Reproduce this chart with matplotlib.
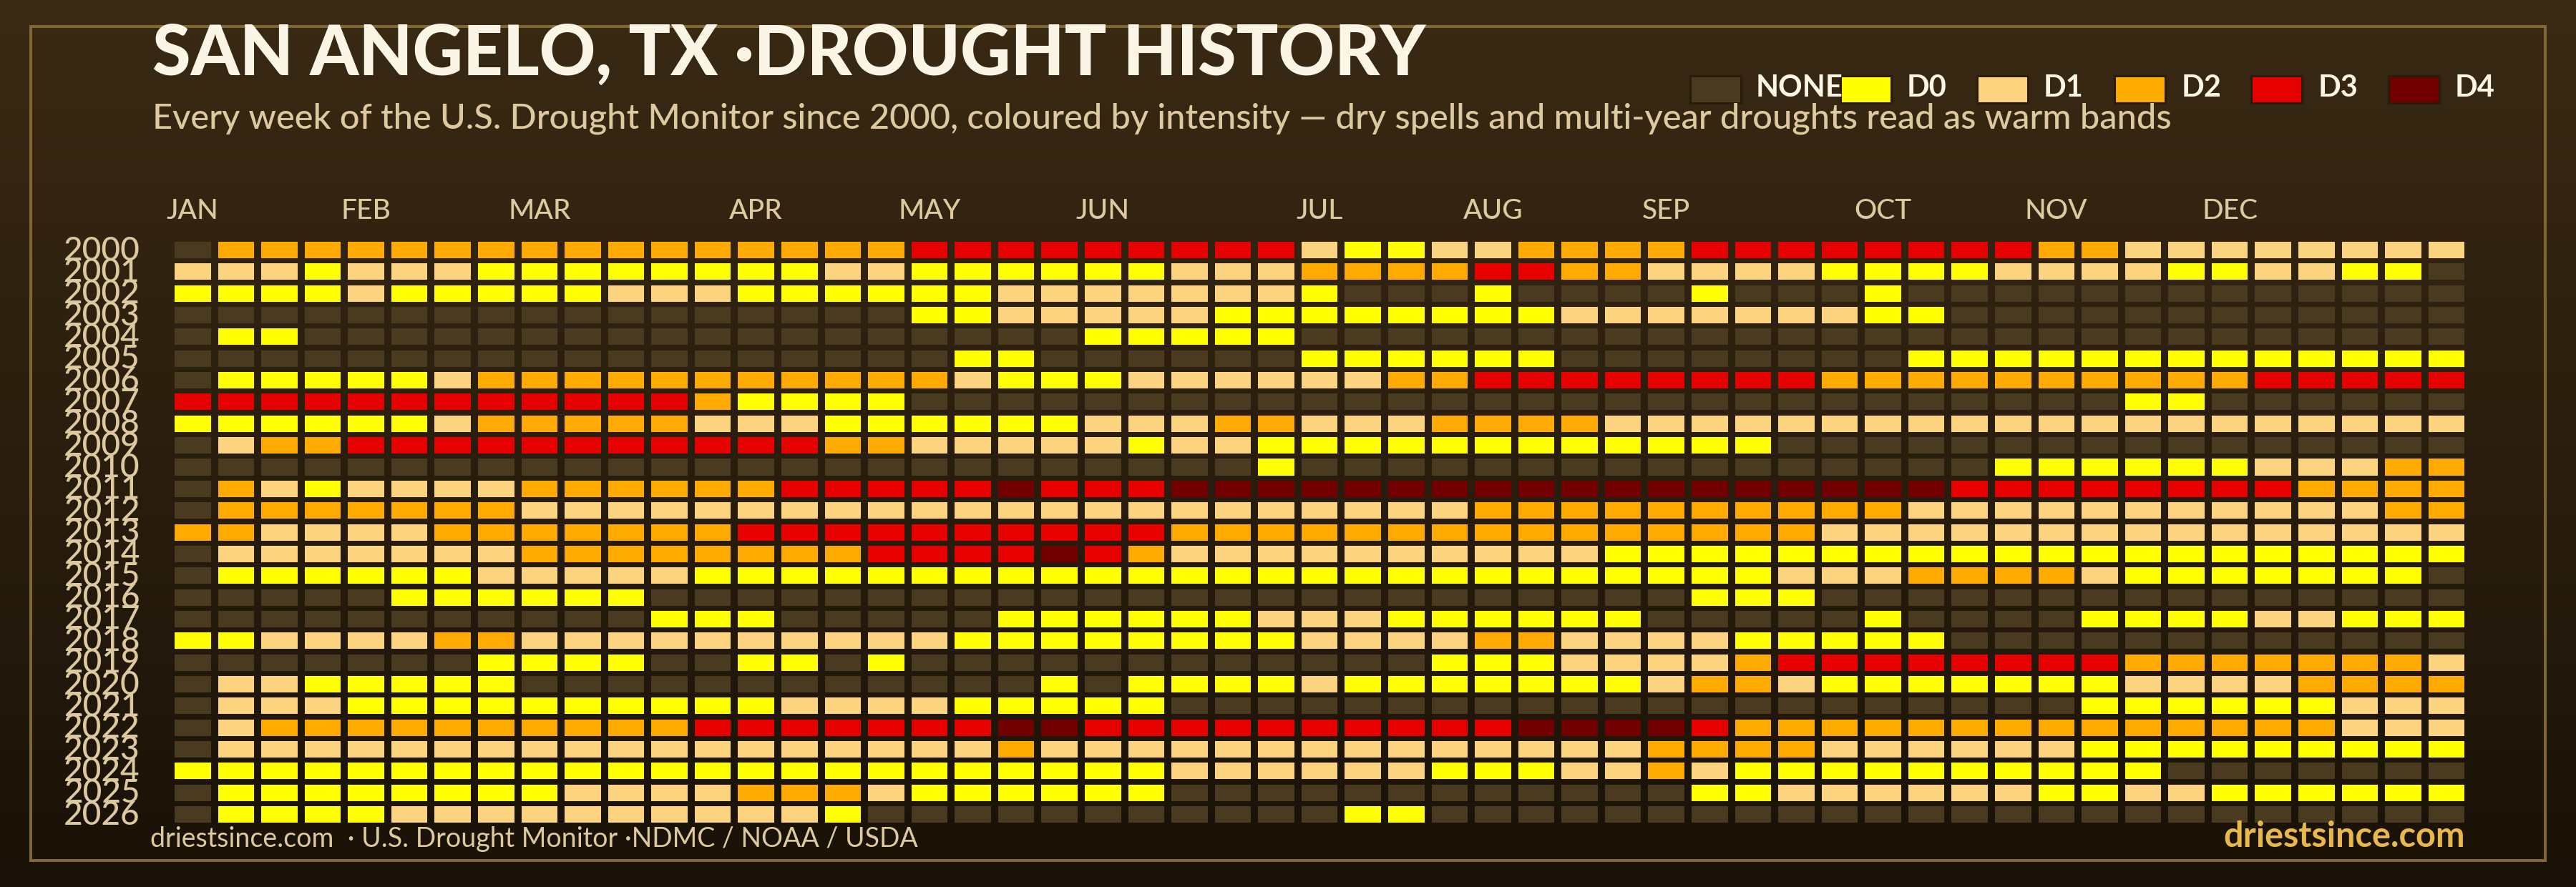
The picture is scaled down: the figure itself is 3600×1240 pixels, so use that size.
# San Angelo drought history - weekly heatmap
import numpy as np
import matplotlib
matplotlib.use('Agg')
import matplotlib.pyplot as plt
from matplotlib.colors import to_rgb
from matplotlib.patches import Rectangle
from matplotlib.transforms import ScaledTranslation

plt.rcParams['font.family'] = ['Lato', 'DejaVu Sans']

years = list(range(2000, 2027))
month_names = ['JAN', 'FEB', 'MAR', 'APR', 'MAY', 'JUN', 'JUL', 'AUG', 'SEP', 'OCT', 'NOV', 'DEC']
month_weeks = [0, 4, 8, 13, 17, 21, 26, 30, 34, 39, 43, 47]

levels = ['NONE', 'D0', 'D1', 'D2', 'D3', 'D4']
level_colors = ['#4a3a20', '#ffff00', '#fcd37f', '#ffaa00', '#e60000', '#730000']

# weekly intensity per year: 0 none, 1 D0, 2 D1, 3 D2, 4 D3, 5 D4
y2000 = [0,3,3,3,3,3,3,3,3,3,3,3, 3,3,3,3,3, 4,4,4,4,4,4,4,4,4, 2, 1,1, 2,2, 3,3,3,3, 4,4,4,4,4,4,4, 4, 3,3, 2,2,2,2,2,2,2,2]
y2001 = [2,2,2,1,2,2,2,1,1,1,1,1, 1,1,1, 2,2, 1,1,1,1,1,1, 2,2,2, 3, 3,3,3, 4,4, 3,3, 2,2,2,2, 1,1,1,1, 2,2,2,2, 1,1, 2,2, 1,1, 0]
y2002 = [1,1,1,1,2,1,1,1,1,1,2,2, 2, 1,1,1,1,1,1, 2,2,2,2,2,2,2, 1, 0,0,0, 1, 0,0,0,0, 1, 0,0,0, 1, 0,0, 0,0,0,0,0,0,0,0,0,0,0]
y2003 = [0,0,0,0,0,0,0,0,0,0,0,0, 0,0,0,0,0, 1,1, 2,2,2,2,2, 1,1,1, 1,1,1,1,1, 2,2,2,2,2,2,2, 1,1, 0, 0,0,0,0,0,0,0,0,0,0,0]
y2004 = [0,1,1,0,0,0,0,0,0,0,0,0, 0,0,0,0,0,0,0,0,0, 1,1,1,1,1, 0, 0,0,0,0,0,0,0,0,0,0,0,0,0,0,0, 0,0,0,0,0,0,0,0,0,0,0]
y2005 = [0,0,0,0,0,0,0,0,0,0,0,0, 0,0,0,0,0,0, 1,1, 0,0,0,0,0,0, 1, 1,1,1,1,1, 0,0,0,0,0,0,0,0, 1,1, 1,1,1,1,1,1,1,1,1,1,1]
y2006 = [0,1,1,1,1,1,2,3,3,3,3,3, 3,3,3,3,3,3, 2, 1,1,1, 2,2,2,2,2, 2, 3,3, 4,4,4,4,4,4,4,4, 3,3,3,3, 3,3,3,3,3,3, 4,4,4,4,4]
y2007 = [4,4,4,4,4,4,4,4,4,4,4,4, 3, 1,1,1,1, 0,0,0,0,0,0,0,0,0,0, 0,0,0,0,0,0,0,0,0,0,0,0,0,0,0, 0,0,0, 1,1, 0,0,0,0,0,0]
y2008 = [1,1,1,1,1,1,2,3,3,3,3,3, 2,2,2, 1,1,1,1,1,1, 2,2,2, 3,3, 2, 2,2, 3,3,3,3, 2,2,2,2,2,2,2,2,2, 2,2,2,2,2,2,2,2,2,2,2]
y2009 = [0,2,3,3,4,4,4,4,4,4,4,4, 4,4,4, 3,3, 2,2,2,2,2, 1, 2,2, 1,1, 1,1,1,1,1,1,1,1,1,1, 0,0,0,0,0, 0,0,0,0,0,0,0,0,0,0,0]
y2010 = [0,0,0,0,0,0,0,0,0,0,0,0, 0,0,0,0,0,0,0,0,0,0,0,0,0, 1, 0, 0,0,0,0,0,0,0,0,0,0,0,0,0,0,0, 1,1,1,1,1,1, 2,2,2, 3,3]
y2011 = [0,3,2,1,2,2,2,2,3,3,3,3, 3,3, 4,4,4,4,4, 5, 4,4,4, 5,5,5,5, 5,5,5,5,5,5,5,5,5,5,5,5,5,5, 4, 4,4,4,4,4,4,4, 3,3,3,3]
y2012 = [0,3,3,3,3,3,3,3,2,2,2,2, 2,2,2,2,2,2,2,2,2,2,2,2,2,2,2, 2,2,2, 3,3,3,3,3,3,3,3,3,3, 2,2, 2,2,2,2,2,2,2,2,2, 3,3]
y2013 = [3,3,2,2,2,2,3,3,3,3,3,3, 3, 4,4,4,4,4,4,4,4,4,4, 3,3,3,3, 3,3,3,3,3,3,3,3,3,3,3, 2,2,2,2, 2,2,2,2,2,2,2,2,2,2,2]
y2014 = [0,2,2,2,2,2,2,2,3,3,3,3, 3,3,3,3, 4,4,4,4, 5, 4, 3, 2,2,2,2, 2,2,2,2,2,2, 1,1,1,1,1,1,1,1,1, 1,1,1,1,1,1,1,1,1,1,1]
y2015 = [0,1,1,1,1,1,1,2,2,2,2,2, 1,1,1,1,1,1,1,1,1,1,1,1,1,1,1, 1,1,1,1,1,1,1,1,1,1, 2,2,2, 3,3, 3,3, 2, 1,1,1,1,1,1,1, 0]
y2016 = [0,0,0,0,0,1,1,1,1,1,1,0, 0,0,0,0,0,0,0,0,0,0,0,0,0,0,0, 0,0,0,0,0,0,0,0, 1,1,1, 0,0,0,0, 0,0,0,0,0,0,0,0,0,0,0]
y2017 = [0,0,0,0,0,0,0,0,0,0,0,1, 1,1, 0,0,0,0,0, 1,1,1,1,1,1, 2,2, 2, 1,1,1,1,1,1, 0,0,0,0,0, 1, 0,0, 0,0, 1,1,1,1, 2,2, 1,1,1]
y2018 = [1,1,2,2,2,2,3,3,2,2,2,2, 2,2,2,2,2,2, 1,1,1,1,1,1,1,1, 2, 2,2,2, 3,3, 2,2,2,2, 1,1,1,1,1, 0, 0,0,0,0,0,0,0,0,0,0,0]
y2019 = [0,0,0,0,0,0,0,1,1,1,1,0, 0, 1,1, 0, 1, 0,0,0,0,0,0,0,0,0,0, 0,0, 1,1,1, 2,2,2,2, 3, 4,4,4,4,4, 4,4,4, 3,3,3,3,3,3,3, 2]
y2020 = [0,2,2,1,1,1,1,1,0,0,0,0, 0,0,0,0,0,0,0,0, 1, 0, 1,1,1,1, 2, 1,1,1,1,1,1,1, 2, 3,3, 2, 1,1,1,1, 1,1,1, 2,2,2,2, 3,3,3,3]
y2021 = [0,2,2,2,1,1,1,1,1,1,1,1, 1,1, 2,2,2,2, 1,1,1,1,1, 0,0,0,0, 0,0,0,0,0,0,0,0,0,0,0,0,0,0,0, 0,0, 1,1,1,1,1,1, 2,2,2]
y2022 = [0,2,3,3,3,3,3,3,3,3,3,3, 4,4,4,4,4,4,4, 5,5, 4,4,4,4,4,4, 4,4,4,4, 5,5,5,5, 4, 3,3,3,3,3,3, 3,3,3,3,3,3,3,3, 2,2,2]
y2023 = [0,2,2,2,2,2,2,2,2,2,2,2, 2,2,2,2,2,2,2, 3, 2,2,2,2,2,2,2, 2,2,2,2,2,2,2, 3,3,3,3, 2,2,2,2, 2,2, 1,1,1,1,1,1,1,1,1]
y2024 = [1,1,1,1,1,1,1,1,1,1,1,1, 1,1,1,1,1,1,1,1,1,1,1, 2,2,2,2, 2,2, 1,1,1, 2,2, 3, 2, 1,1,1,1,1,1, 1,1,1,1, 0,0,0,0,0,0,0]
y2025 = [0,1,1,1,1,1,1,1,1,2,2,2, 2, 3,3,3, 2, 1,1,1,1,1,1, 0,0,0,0, 0,0,0,0,0,0,0,0, 1,1, 2,2,2,2,2, 2, 1,1, 2,2, 1,1,1,1,1,1]
y2026 = [0,1,1,1,1,2,2,2,2,2,2,2, 2,2,2, 1, 0,0,0,0,0,0,0,0,0,0,0, 1,1, 0,0,0,0,0,0,0,0,0,0,0,0,0, 0,0,0,0,0,0,0,0,0,0,0]

weeks = np.array([y2000, y2001, y2002, y2003, y2004, y2005, y2006, y2007, y2008,
                  y2009, y2010, y2011, y2012, y2013, y2014, y2015, y2016, y2017,
                  y2018, y2019, y2020, y2021, y2022, y2023, y2024, y2025, y2026])

W, H = 3600, 1240
cream = '#fbf5e6'
tan = '#dcc9a0'
gold = '#e8b84b'
frame_col = '#806633'
swatch_edge = '#2a1c0c'


def fx(x):
    return x / W


def fy(y):
    return 1 - y / H


fig = plt.figure(figsize=(W / 100, H / 100), dpi=100)

# background gradient
bg = fig.add_axes([0, 0, 1, 1], zorder=0)
top, bottom = np.array(to_rgb('#3a2a14')), np.array(to_rgb('#1a1208'))
t = np.linspace(0, 1, 256)[:, None, None]
bg.imshow(top * (1 - t) + bottom * t, aspect='auto', extent=[0, 1, 0, 1])
bg.axis('off')

# frame
fig.add_artist(Rectangle((fx(43), fy(1203)), fx(3557 - 43), (1203 - 37) / H, transform=fig.transFigure,
                         fill=False, edgecolor=frame_col, linewidth=2.9, zorder=1))

# heatmap
pitch_x, pitch_y = 60.57, 30.35
x0, y0 = 269.3 - pitch_x / 2, 349.5 - pitch_y / 2
ax = fig.add_axes([fx(x0), fy(y0 + 27 * pitch_y), 53 * pitch_x / W, 27 * pitch_y / H], zorder=2)
ax.set_xlim(-0.5, 52.5)
ax.set_ylim(26.5, -0.5)
ax.patch.set_alpha(0)
for s in ax.spines.values():
    s.set_visible(False)

cell_w, cell_h = 0.835, 0.76
for r in range(weeks.shape[0]):
    for c in range(weeks.shape[1]):
        ax.add_patch(Rectangle((c - cell_w / 2, r - cell_h / 2), cell_w, cell_h,
                               facecolor=level_colors[weeks[r, c]], edgecolor='none'))

ax.set_yticks(range(len(years)))
ax.set_yticklabels(years, fontsize=33, color=tan, fontweight='medium')
ax.set_xticks(month_weeks)
ax.set_xticklabels(month_names, fontsize=28, color=tan, fontweight='medium')
ax.xaxis.tick_top()
ax.tick_params(axis='both', length=0)
ax.tick_params(axis='x', pad=15)
ax.tick_params(axis='y', pad=31)
# year labels sit a little above the row centre
nudge = ScaledTranslation(0, 3 / 100, fig.dpi_scale_trans)
for lab in ax.get_yticklabels():
    lab.set_transform(lab.get_transform() + nudge)

# titles
fig.text(fx(213), fy(105), 'SAN ANGELO, TX ·DROUGHT HISTORY', fontsize=70, fontweight='black',
         color=cream, ha='left', va='baseline', zorder=3)
fig.text(fx(213), fy(180), 'Every week of the U.S. Drought Monitor since 2000, coloured by intensity \u2014 '
         'dry spells and multi-year droughts read as warm bands', fontsize=35.1, fontweight='medium',
         color=tan, ha='left', va='baseline', zorder=3)

# legend
swatch_x = [2360, 2570, 2761, 2953, 3144, 3336]
label_x = [2454, 2665, 2856, 3049, 3240, 3431]
for name, col, sx, lx in zip(levels, level_colors, swatch_x, label_x):
    fig.add_artist(Rectangle((fx(sx + 1.5), fy(143.5)), 71 / W, 38 / H, transform=fig.transFigure,
                             facecolor=col, edgecolor=swatch_edge, linewidth=2.2, zorder=3))
    fig.text(fx(lx), fy(135), name, fontsize=30, fontweight='bold', color=cream,
             ha='left', va='baseline', zorder=3)

# footer
fig.text(fx(210), fy(1184), 'driestsince.com  \u00b7 U.S. Drought Monitor \u00b7NDMC / NOAA / USDA',
         fontsize=27, color=tan, ha='left', va='baseline', zorder=3)
fig.text(fx(3445), fy(1184), 'driestsince.com', fontsize=35, fontweight='bold', color=gold,
         ha='right', va='baseline', zorder=3)

fig.savefig('out.png', dpi=100, facecolor='#1a1208')
